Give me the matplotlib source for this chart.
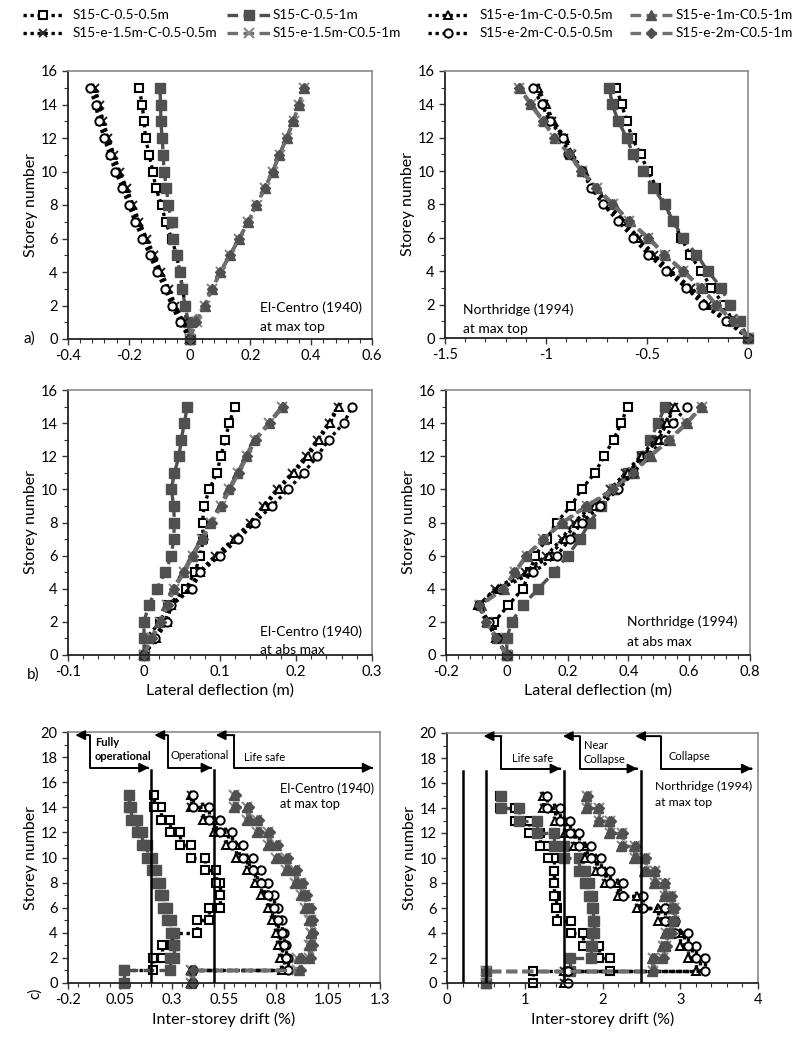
import matplotlib
matplotlib.use('Agg')
import matplotlib.pyplot as plt
from matplotlib.lines import Line2D
from matplotlib.ticker import MultipleLocator, AutoMinorLocator, FuncFormatter

plt.rcParams['font.family'] = ['Lato', 'DejaVu Sans']

SERIES = ['S15-C-0.5-0.5m', 'S15-C-0.5-1m',
          'S15-e-1.5m-C-0.5-0.5m', 'S15-e-1.5m-C0.5-1m',
          'S15-e-1m-C-0.5-0.5m', 'S15-e-1m-C0.5-1m',
          'S15-e-2m-C-0.5-0.5m', 'S15-e-2m-C0.5-1m']
STOREYS = list(range(16))
DRIFT_STOREYS = list(range(1, 16))

# ---------------- a) El-Centro at max top (lateral deflection, m)
a_ec_c05_05 = [0, -0.010, -0.015, -0.023, -0.032, -0.043, -0.059, -0.079, -0.092, -0.111, -0.121, -0.133, -0.145, -0.150, -0.156, -0.166]
a_ec_c05_1 = [0, -0.004, -0.015, -0.024, -0.032, -0.043, -0.056, -0.059, -0.070, -0.076, -0.084, -0.087, -0.090, -0.095, -0.095, -0.098]
a_ec_e15_05 = [0, -0.020, -0.047, -0.068, -0.094, -0.117, -0.141, -0.166, -0.186, -0.207, -0.230, -0.249, -0.267, -0.285, -0.296, -0.312]
a_ec_e15_1 = [0, 0.023, 0.051, 0.075, 0.102, 0.133, 0.164, 0.193, 0.221, 0.248, 0.274, 0.296, 0.320, 0.342, 0.360, 0.377]
a_ec_e1_05 = [0, -0.025, -0.052, -0.073, -0.099, -0.122, -0.146, -0.171, -0.191, -0.212, -0.235, -0.254, -0.272, -0.290, -0.300, -0.318]
a_ec_e1_1 = [0, 0.005, 0.050, 0.074, 0.101, 0.132, 0.163, 0.192, 0.220, 0.247, 0.273, 0.295, 0.319, 0.341, 0.359, 0.376]
a_ec_e2_05 = [0, -0.032, -0.059, -0.081, -0.107, -0.131, -0.155, -0.180, -0.200, -0.221, -0.244, -0.263, -0.281, -0.299, -0.309, -0.329]
a_ec_e2_1 = [0, 0.020, 0.050, 0.074, 0.101, 0.132, 0.163, 0.192, 0.220, 0.247, 0.273, 0.295, 0.319, 0.341, 0.359, 0.376]

# ---------------- a) Northridge at max top
a_nr_c05_05 = [0, -0.074, -0.120, -0.181, -0.231, -0.288, -0.330, -0.371, -0.412, -0.453, -0.494, -0.532, -0.574, -0.600, -0.626, -0.651]
a_nr_c05_1 = [0, -0.041, -0.091, -0.132, -0.198, -0.255, -0.321, -0.371, -0.412, -0.470, -0.519, -0.569, -0.600, -0.643, -0.672, -0.687]
a_nr_e15_05 = [0, -0.095, -0.200, -0.280, -0.380, -0.465, -0.540, -0.615, -0.690, -0.755, -0.820, -0.870, -0.910, -0.970, -1.010, -1.050]
a_nr_e15_1 = [0, -0.074, -0.157, -0.231, -0.321, -0.412, -0.494, -0.588, -0.668, -0.750, -0.824, -0.882, -0.956, -1.014, -1.075, -1.132]
a_nr_e1_05 = [0, -0.100, -0.210, -0.290, -0.390, -0.475, -0.550, -0.625, -0.700, -0.760, -0.810, -0.875, -0.905, -0.965, -1.000, -1.040]
a_nr_e1_1 = [0, -0.072, -0.155, -0.229, -0.318, -0.409, -0.491, -0.585, -0.665, -0.747, -0.821, -0.879, -0.953, -1.011, -1.072, -1.130]
a_nr_e2_05 = [0, -0.107, -0.223, -0.305, -0.404, -0.494, -0.569, -0.643, -0.717, -0.775, -0.824, -0.890, -0.915, -0.981, -1.022, -1.063]
a_nr_e2_1 = [0, -0.076, -0.160, -0.234, -0.324, -0.415, -0.497, -0.591, -0.671, -0.753, -0.827, -0.885, -0.959, -1.017, -1.078, -1.134]

# ---------------- b) El-Centro at abs max
b_ec_c05_05 = [0, 0.003, 0.021, 0.032, 0.055, 0.067, 0.074, 0.078, 0.077, 0.079, 0.086, 0.096, 0.101, 0.107, 0.112, 0.120]
b_ec_c05_1 = [0, 0.000, 0.000, 0.006, 0.017, 0.028, 0.036, 0.039, 0.040, 0.039, 0.036, 0.040, 0.046, 0.049, 0.053, 0.057]
b_ec_e15_05 = [0, 0.012, 0.028, 0.034, 0.060, 0.072, 0.094, 0.118, 0.140, 0.157, 0.175, 0.195, 0.213, 0.228, 0.243, 0.255]
b_ec_e15_1 = [0, 0.010, 0.021, 0.030, 0.039, 0.052, 0.064, 0.076, 0.088, 0.101, 0.112, 0.124, 0.135, 0.146, 0.165, 0.182]
b_ec_e1_05 = [0, 0.016, 0.030, 0.035, 0.061, 0.074, 0.096, 0.120, 0.142, 0.159, 0.177, 0.197, 0.216, 0.230, 0.245, 0.256]
b_ec_e1_1 = [0, 0.009, 0.020, 0.029, 0.038, 0.051, 0.063, 0.075, 0.087, 0.100, 0.111, 0.123, 0.134, 0.145, 0.164, 0.181]
b_ec_e2_05 = [0, 0.014, 0.030, 0.036, 0.063, 0.074, 0.100, 0.124, 0.146, 0.168, 0.190, 0.210, 0.228, 0.243, 0.263, 0.274]
b_ec_e2_1 = [0, 0.011, 0.022, 0.031, 0.040, 0.053, 0.065, 0.077, 0.089, 0.102, 0.113, 0.125, 0.136, 0.147, 0.166, 0.183]

# ---------------- b) Northridge at abs max
b_nr_c05_05 = [0, -0.033, -0.041, 0.005, 0.052, 0.076, 0.093, 0.131, 0.164, 0.211, 0.246, 0.290, 0.320, 0.351, 0.376, 0.398]
b_nr_c05_1 = [0, 0.000, 0.016, 0.052, 0.104, 0.155, 0.200, 0.240, 0.273, 0.310, 0.351, 0.400, 0.444, 0.471, 0.498, 0.520]
b_nr_e15_05 = [0, -0.035, -0.060, -0.090, -0.040, 0.060, 0.130, 0.180, 0.220, 0.280, 0.340, 0.390, 0.440, 0.490, 0.520, 0.550]
b_nr_e15_1 = [0, -0.033, -0.066, -0.088, -0.011, 0.027, 0.065, 0.120, 0.184, 0.263, 0.351, 0.416, 0.471, 0.535, 0.592, 0.641]
b_nr_e1_05 = [0, -0.035, -0.065, -0.095, -0.030, 0.070, 0.140, 0.190, 0.230, 0.290, 0.350, 0.400, 0.445, 0.500, 0.526, 0.553]
b_nr_e1_1 = [0, -0.031, -0.064, -0.086, -0.009, 0.029, 0.067, 0.122, 0.186, 0.265, 0.353, 0.418, 0.473, 0.537, 0.594, 0.643]
b_nr_e2_05 = [0, -0.033, -0.060, -0.090, -0.020, 0.087, 0.164, 0.208, 0.246, 0.307, 0.367, 0.416, 0.460, 0.520, 0.548, 0.592]
b_nr_e2_1 = [0, -0.035, -0.068, -0.090, -0.013, 0.025, 0.063, 0.118, 0.182, 0.261, 0.349, 0.414, 0.469, 0.533, 0.590, 0.639]

# ---------------- c) El-Centro inter-storey drift (%), storeys 1..15
c_ec_c05_05 = [0.07, 0.21, 0.25, 0.30, 0.42, 0.48, 0.53, 0.53, 0.51, 0.46, 0.39, 0.34, 0.29, 0.245, 0.215]
c_ec_c05_1 = [0.07, 0.29, 0.31, 0.31, 0.295, 0.275, 0.255, 0.24, 0.225, 0.205, 0.18, 0.155, 0.13, 0.105, 0.095]
c_ec_e15_05 = [0.39, 0.84, 0.83, 0.82, 0.81, 0.79, 0.77, 0.74, 0.71, 0.67, 0.62, 0.57, 0.51, 0.46, 0.39]
c_ec_e15_1 = [0.39, 0.90, 0.96, 0.97, 0.97, 0.96, 0.94, 0.92, 0.89, 0.85, 0.80, 0.76, 0.71, 0.66, 0.60]
c_ec_e1_05 = [0.39, 0.83, 0.82, 0.81, 0.80, 0.78, 0.76, 0.73, 0.70, 0.66, 0.61, 0.56, 0.50, 0.45, 0.39]
c_ec_e1_1 = [0.39, 0.91, 0.96, 0.97, 0.97, 0.96, 0.94, 0.92, 0.89, 0.85, 0.80, 0.76, 0.71, 0.66, 0.60]
c_ec_e2_05 = [0.40, 0.86, 0.85, 0.84, 0.83, 0.81, 0.79, 0.76, 0.73, 0.69, 0.64, 0.59, 0.53, 0.48, 0.40]
c_ec_e2_1 = [0.40, 0.92, 0.97, 0.98, 0.98, 0.97, 0.95, 0.93, 0.90, 0.86, 0.81, 0.77, 0.72, 0.67, 0.61]

# ---------------- c) Northridge inter-storey drift (%)
c_nr_c05_05 = [1.10, 2.10, 1.95, 1.75, 1.60, 1.42, 1.40, 1.38, 1.37, 1.37, 1.30, 1.20, 1.05, 0.88, 0.68]
c_nr_c05_1 = [0.50, 1.58, 1.85, 1.87, 1.89, 1.88, 1.86, 1.83, 1.78, 1.70, 1.50, 1.37, 1.16, 0.92, 0.69]
c_nr_e15_05 = [1.50, 3.25, 3.15, 3.05, 2.88, 2.75, 2.47, 2.22, 2.05, 1.93, 1.80, 1.65, 1.54, 1.41, 1.25]
c_nr_e15_1 = [0.50, 2.65, 2.78, 2.82, 2.88, 2.92, 2.88, 2.80, 2.67, 2.55, 2.42, 2.25, 2.10, 1.95, 1.80]
c_nr_e1_05 = [1.50, 3.20, 3.10, 3.00, 2.85, 2.72, 2.45, 2.20, 2.03, 1.91, 1.78, 1.63, 1.52, 1.39, 1.24]
c_nr_e1_1 = [0.50, 2.64, 2.77, 2.81, 2.87, 2.91, 2.87, 2.79, 2.66, 2.54, 2.41, 2.24, 2.09, 1.94, 1.79]
c_nr_e2_05 = [1.55, 3.32, 3.20, 3.10, 2.93, 2.80, 2.52, 2.27, 2.10, 1.98, 1.85, 1.70, 1.58, 1.45, 1.28]
c_nr_e2_1 = [0.50, 2.66, 2.79, 2.83, 2.89, 2.93, 2.89, 2.81, 2.68, 2.56, 2.43, 2.26, 2.11, 1.96, 1.81]

# performance limits (drift %)
EC_LIMITS = [0.2, 0.5]
NR_LIMITS = [0.2, 0.5, 1.5, 2.5]

DK = '#505050'
GR = '#6e6e6e'
STYLES = [
    dict(ls=(0, (1, 1.1)), color='black', lw=2.4, marker='s', mfc='white', mec='black', ms=5.5, mew=1.5),
    dict(ls=(0, (3.2, 1.6)), color=DK, lw=2.4, marker='s', mfc=DK, mec=DK, ms=6.5, mew=1),
    dict(ls=(0, (1, 1.1)), color='black', lw=2.4, marker='x', mfc='none', mec='#222222', ms=6, mew=1.4),
    dict(ls=(0, (3.2, 1.6)), color=GR, lw=2.4, marker='x', mfc='none', mec='#888888', ms=7, mew=1.5),
    dict(ls=(0, (1, 1.1)), color='black', lw=2.4, marker='^', mfc='white', mec='black', ms=6, mew=1.4),
    dict(ls=(0, (3.2, 1.6)), color=GR, lw=2.4, marker='^', mfc=DK, mec=DK, ms=7, mew=1),
    dict(ls=(0, (1, 1.1)), color='black', lw=2.4, marker='o', mfc='white', mec='black', ms=6, mew=1.4),
    dict(ls=(0, (3.2, 1.6)), color=GR, lw=2.4, marker='D', mfc=DK, mec=DK, ms=5, mew=1),
]


def stairs(d):
    xs, ys = [], []
    for k, v in zip(DRIFT_STOREYS, d):
        xs += [v, v]
        ys += [k - 1, k]
    return xs, ys


W, H = 800, 1056
fig = plt.figure(figsize=(W / 100, H / 100), dpi=100)


def ax_px(x0, y0, x1, y1):
    return fig.add_axes([x0 / W, 1 - y1 / H, (x1 - x0) / W, (y1 - y0) / H])


def fmt(v, pos):
    v = round(v, 3)
    if abs(v) < 1e-9:
        return '0'
    return f'{v:g}'


def style_axes(ax, xlim, xstep, ylim, ystep, xoffset=0.0, xminor=5):
    ax.set_xlim(*xlim)
    ax.set_ylim(*ylim)
    ax.xaxis.set_major_locator(MultipleLocator(xstep, offset=xoffset))
    ax.xaxis.set_minor_locator(AutoMinorLocator(xminor))
    ax.yaxis.set_major_locator(MultipleLocator(ystep))
    ax.yaxis.set_minor_locator(AutoMinorLocator(2))
    ax.xaxis.set_major_formatter(FuncFormatter(fmt))
    ax.yaxis.set_major_formatter(FuncFormatter(fmt))
    ax.tick_params(which='both', direction='out', labelsize=10.5, color='#333333')
    ax.tick_params(which='major', length=4, width=1)
    ax.tick_params(which='minor', length=3, width=0.8)
    for s in ['top', 'right']:
        ax.spines[s].set_color('#8a8a8a')
        ax.spines[s].set_linewidth(1.2)
    for s in ['left', 'bottom']:
        ax.spines[s].set_color('#222222')
        ax.spines[s].set_linewidth(1.3)
    ax.set_ylabel('Storey number', fontsize=11.5, labelpad=2)


def plot_profiles(ax, data):
    for name, vals, st in zip(SERIES, data, STYLES):
        ax.plot(vals, STOREYS, label=name, clip_on=False, **st)


def plot_drifts(ax, data):
    for name, vals, st in zip(SERIES, data, STYLES):
        xs, ys = stairs(vals)
        ax.plot(xs, ys, label=name, clip_on=False, **st)


# ---- a) row
ax1 = ax_px(68, 71, 372, 339)
plot_profiles(ax1, [a_ec_c05_05, a_ec_c05_1, a_ec_e15_05, a_ec_e15_1,
                    a_ec_e1_05, a_ec_e1_1, a_ec_e2_05, a_ec_e2_1])
style_axes(ax1, (-0.4, 0.6), 0.2, (0, 16), 2)
ax1.text(0.232, 1.85, 'El-Centro (1940)', fontsize=10, va='center')
ax1.text(0.232, 0.72, 'at max top', fontsize=10, va='center')

ax2 = ax_px(445, 71, 748, 338)
plot_profiles(ax2, [a_nr_c05_05, a_nr_c05_1, a_nr_e15_05, a_nr_e15_1,
                    a_nr_e1_05, a_nr_e1_1, a_nr_e2_05, a_nr_e2_1])
style_axes(ax2, (-1.5, 0), 0.5, (0, 16), 2)
ax2.text(-1.41, 1.68, 'Northridge (1994)', fontsize=10, va='center')
ax2.text(-1.41, 0.54, 'at max top', fontsize=10, va='center')

# ---- b) row
ax3 = ax_px(68, 390, 372, 655)
plot_profiles(ax3, [b_ec_c05_05, b_ec_c05_1, b_ec_e15_05, b_ec_e15_1,
                    b_ec_e1_05, b_ec_e1_1, b_ec_e2_05, b_ec_e2_1])
style_axes(ax3, (-0.1, 0.3), 0.1, (0, 16), 2)
ax3.text(0.153, 1.39, 'El-Centro (1940)', fontsize=10, va='center')
ax3.text(0.153, 0.30, 'at abs max', fontsize=10, va='center')
ax3.set_xlabel('Lateral deflection (m)', fontsize=11.5, labelpad=3)

ax4 = ax_px(446, 390, 750, 655)
plot_profiles(ax4, [b_nr_c05_05, b_nr_c05_1, b_nr_e15_05, b_nr_e15_1,
                    b_nr_e1_05, b_nr_e1_1, b_nr_e2_05, b_nr_e2_1])
style_axes(ax4, (-0.2, 0.8), 0.2, (0, 16), 2)
ax4.text(0.395, 1.99, 'Northridge (1994)', fontsize=10, va='center')
ax4.text(0.395, 0.78, 'at abs max', fontsize=10, va='center')
ax4.set_xlabel('Lateral deflection (m)', fontsize=11.5, labelpad=3)

# ---- c) row
ax5 = ax_px(68, 732, 380, 983)
plot_drifts(ax5, [c_ec_c05_05, c_ec_c05_1, c_ec_e15_05, c_ec_e15_1,
                  c_ec_e1_05, c_ec_e1_1, c_ec_e2_05, c_ec_e2_1])
style_axes(ax5, (-0.2, 1.3), 0.25, (0, 20), 2, xoffset=0.05)
ax5.set_xlabel('Inter-storey drift (%)', fontsize=11.5, labelpad=3)
ax5.text(0.82, 15.5, 'El-Centro (1940)', fontsize=9.3, va='center')
ax5.text(0.82, 14.3, 'at max top', fontsize=9.3, va='center')

ax6 = ax_px(447, 733, 758, 983)
plot_drifts(ax6, [c_nr_c05_05, c_nr_c05_1, c_nr_e15_05, c_nr_e15_1,
                  c_nr_e1_05, c_nr_e1_1, c_nr_e2_05, c_nr_e2_1])
style_axes(ax6, (0, 4), 1, (0, 20), 2)
ax6.set_xlabel('Inter-storey drift (%)', fontsize=11.5, labelpad=3)
ax6.text(2.68, 15.7, 'Northridge (1994)', fontsize=8.8, va='center')
ax6.text(2.68, 14.4, 'at max top', fontsize=8.8, va='center')

for ax, lims in ((ax5, EC_LIMITS), (ax6, NR_LIMITS)):
    for lv in lims:
        ax.plot([lv, lv], [0, 17], color='black', lw=1.8, zorder=5)


def bracket(ax, xl, xc, xr, text, tx, ty, bold=False, size=8):
    yt, yb = 19.75, 17.15
    ax.plot([xc, xc, xr], [yt, yb, yb], color='black', lw=1.4, clip_on=False, zorder=6,
            solid_capstyle='butt')
    ax.annotate('', xy=(xl, yt), xytext=(xc, yt),
                arrowprops=dict(arrowstyle='-|>', color='black', lw=1.4,
                                mutation_scale=14, shrinkA=0, shrinkB=0), zorder=6)
    ax.annotate('', xy=(xr, yb), xytext=(xr - 0.01, yb),
                arrowprops=dict(arrowstyle='-|>', color='black', lw=1.4,
                                mutation_scale=14, shrinkA=0, shrinkB=0), zorder=6)
    ax.text(tx, ty, text, fontsize=size, fontweight='bold' if bold else 'normal',
            va='center', ha='left', linespacing=1.3)


bracket(ax5, -0.165, -0.095, 0.19, 'Fully\noperational', -0.07, 18.6, bold=True)
bracket(ax5, 0.215, 0.28, 0.49, 'Operational', 0.295, 18.1)
bracket(ax5, 0.51, 0.60, 1.265, 'Life safe', 0.645, 18.0)
bracket(ax6, 0.47, 0.70, 1.46, 'Life safe', 0.83, 18.0)
bracket(ax6, 1.49, 1.71, 2.45, 'Near\nCollapse', 1.76, 18.45)
bracket(ax6, 2.42, 2.75, 3.92, 'Collapse', 2.85, 18.1)

# panel letters
fig.text(23 / W, 1 - 339 / H, 'a)', fontsize=11, va='center', ha='left')
fig.text(27 / W, 1 - 675 / H, 'b)', fontsize=11, va='center', ha='left')
fig.text(35 / W, 1 - 993 / H, 'c)', fontsize=11, va='center', ha='center', rotation=90)

# legend (placed entry by entry, two blocks of 2x2 as in the original)
LEG_POS = [  # (handle x0, handle x1, text x, y) in pixels, per SERIES entry
    (23, 63, 73, 15), (227, 270, 273, 15),
    (23, 63, 73, 33), (227, 270, 273, 33),
    (428, 468, 480, 15), (630, 672, 676, 15),
    (428, 468, 480, 33), (630, 672, 676, 33),
]
for name, st, (hx0, hx1, tx, ty) in zip(SERIES, STYLES, LEG_POS):
    yy = 1 - ty / H
    line_kw = {k: v for k, v in st.items() if k in ('ls', 'color', 'lw')}
    fig.add_artist(Line2D([hx0 / W, hx1 / W], [yy, yy], transform=fig.transFigure, **line_kw))
    mk_kw = {k: v for k, v in st.items() if k in ('marker', 'mfc', 'mec', 'ms', 'mew')}
    fig.add_artist(Line2D([(hx0 + hx1) / 2 / W], [yy], transform=fig.transFigure, ls='none', **mk_kw))
    fig.text(tx / W, yy, name, fontsize=9.8, va='center', ha='left')

fig.savefig('out.png', dpi=100)
